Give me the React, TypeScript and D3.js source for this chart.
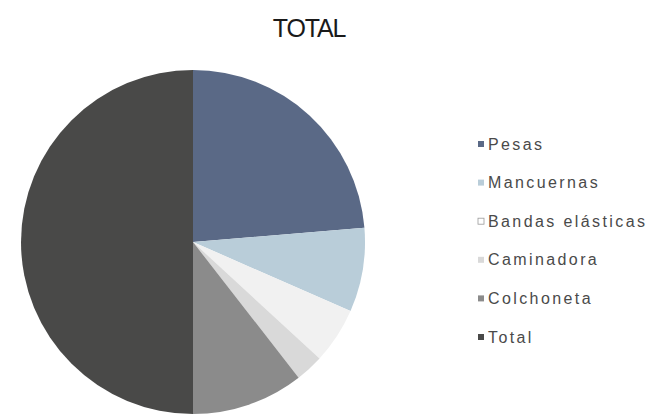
import React from "react";
import * as d3 from "d3";

const categories = ["Pesas", "Mancuernas", "Bandas elásticas", "Caminadora", "Colchoneta", "Total"];
const values = [9, 3, 2, 1, 4, 19];
const colors = ["#5a6986", "#b9cdd9", "#f1f1f1", "#d9d9d9", "#8b8b8b", "#494948"];
const title = "TOTAL";

export default function App() {
  const width = 649;
  const height = 416;
  const cx = 193;
  const cy = 242;
  const r = 172;

  const data = categories.map((c, i) => ({ name: c, value: values[i], color: colors[i] }));
  const pie = d3.pie<any>().value((d: any) => d.value).sort(null).startAngle(0).endAngle(2 * Math.PI);
  const arc = d3.arc<any>().innerRadius(0).outerRadius(r);
  const arcs = pie(data);

  const legendX = 481;
  const legendY0 = 144;
  const legendStep = 38.6;

  return (
    <svg
      width={width}
      height={height}
      style={{ position: "absolute", left: 0, top: 0, background: "#fff" }}
    >
      <rect x={0} y={0} width={width} height={height} fill="#fff" />
      <text
        x={309}
        y={37}
        textAnchor="middle"
        fontFamily="Liberation Sans, Arial, sans-serif"
        fontSize={25}
        letterSpacing={-1.2}
        fill="#1a1a1a"
      >
        {title}
      </text>
      <g transform={`translate(${cx},${cy})`}>
        {arcs.map((a, i) => (
          <path key={i} d={arc(a) as string} fill={a.data.color} />
        ))}
      </g>
      <g>
        {data.map((d, i) => {
          const y = legendY0 + i * legendStep;
          return (
            <g key={i}>
              <rect
                x={legendX - 3}
                y={y - 3}
                width={6}
                height={6}
                fill={d.color === "#f1f1f1" ? "#ffffff" : d.color}
                stroke={d.color === "#f1f1f1" ? "#9a9a9a" : "none"}
                strokeWidth={0.8}
              />
              <text
                x={488}
                y={y + 5.5}
                fontFamily="Liberation Sans, Arial, sans-serif"
                fontSize={16}
                letterSpacing={2.4}
                fill="#4a4a4a"
              >
                {d.name}
              </text>
            </g>
          );
        })}
      </g>
    </svg>
  );
}
